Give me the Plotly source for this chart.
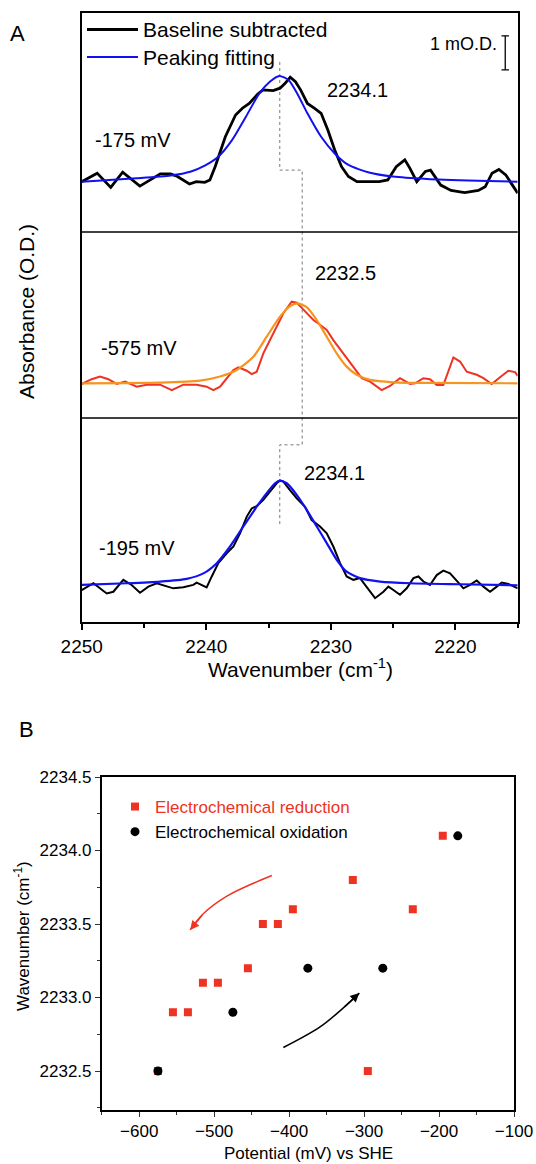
import plotly.graph_objects as go

# ---------------- Panel A data (wavenumber in cm-1, absorbance in mO.D.) ----------------
top_wn = [2250.0, 2248.76, 2247.67, 2246.71, 2245.33, 2244.51, 2243.69, 2242.86, 2242.31, 2241.35,
          2240.80, 2240.12, 2239.71, 2239.29, 2238.47, 2237.65, 2237.10, 2236.55, 2235.86, 2235.45,
          2234.63, 2234.08, 2233.67, 2233.26, 2232.84, 2232.43, 2231.88, 2231.33, 2230.78, 2230.24,
          2229.69, 2229.14, 2228.59, 2227.90, 2226.94, 2226.12, 2225.43, 2224.75, 2224.06, 2223.65,
          2223.10, 2222.41, 2222.00, 2221.18, 2220.35, 2219.26, 2218.16, 2217.61, 2217.06, 2216.51,
          2215.96, 2215.41, 2215.00]
top_abs = [-0.05, 0.20, -0.22, 0.23, -0.18, 0.0, 0.18, 0.18, 0.10, -0.12,
           -0.05, -0.07, 0.0, 0.39, 1.27, 1.91, 2.11, 2.25, 2.53, 2.65,
           2.63, 2.70, 2.84, 3.02, 2.89, 2.65, 2.25, 2.11, 1.96, 1.47,
           0.88, 0.39, 0.10, -0.05, -0.05, -0.05, 0.0, 0.39, 0.59, 0.34,
           -0.05, 0.25, 0.29, -0.15, -0.31, -0.37, -0.31, -0.20, 0.20, 0.31,
           0.15, -0.15, -0.39]
top_fit_wn = [2250.0, 2245.61, 2242.86, 2241.22, 2240.12, 2239.02, 2237.92, 2236.82, 2235.73, 2234.90,
              2234.13, 2233.39, 2232.71, 2231.88, 2230.78, 2229.69, 2228.59, 2226.94, 2225.02, 2222.27,
              2218.16, 2215.00]
top_fit_abs = [-0.05, 0.05, 0.13, 0.25, 0.42, 0.69, 1.18, 1.86, 2.55, 2.89,
               3.06, 2.94, 2.55, 1.96, 1.27, 0.78, 0.44, 0.22, 0.10, 0.03,
               -0.02, -0.05]

mid_wn = [2250.00, 2249.20, 2248.53, 2247.86, 2247.19, 2246.52, 2245.58, 2244.78, 2243.71, 2242.77,
          2241.84, 2240.77, 2239.97, 2239.43, 2238.89, 2238.36, 2237.82, 2237.42, 2236.75, 2236.35,
          2235.95, 2235.42, 2234.61, 2233.81, 2233.14, 2232.74, 2232.47, 2231.94, 2231.40, 2230.87,
          2230.33, 2229.80, 2228.99, 2228.19, 2227.52, 2226.85, 2225.92, 2225.25, 2224.45, 2223.64,
          2223.24, 2222.57, 2222.04, 2221.50, 2220.97, 2220.16, 2219.63, 2219.09, 2218.29, 2217.75,
          2217.09, 2216.42, 2215.75, 2215.21, 2215.00]
mid_abs = [-0.02, 0.12, 0.20, 0.12, -0.02, 0.05, -0.10, -0.04, -0.04, -0.20,
           -0.04, -0.04, -0.10, -0.20, -0.10, 0.15, 0.39, 0.47, 0.37, 0.27,
           0.34, 0.88, 1.47, 2.06, 2.40, 2.37, 2.27, 2.06, 1.86, 1.72,
           1.57, 1.27, 0.88, 0.49, 0.15, 0.05, -0.20, -0.08, 0.15, -0.02,
           0.0, 0.15, 0.12, -0.05, -0.05, 0.76, 0.64, 0.34, 0.25, 0.15,
           -0.02, 0.18, 0.37, 0.33, 0.22]
mid_fit_wn = [2250.00, 2243.71, 2240.50, 2238.89, 2237.56, 2236.22, 2235.15, 2234.08, 2233.28, 2232.69,
              2231.94, 2231.13, 2230.33, 2229.53, 2228.73, 2227.92, 2226.85, 2224.98, 2222.30, 2215.00]
mid_fit_abs = [0.0, 0.02, 0.08, 0.20, 0.39, 0.78, 1.37, 1.96, 2.27, 2.35,
               2.24, 1.86, 1.37, 0.88, 0.49, 0.25, 0.10, 0.03, 0.01, 0.0]

bot_wn = [2250.00, 2249.06, 2247.99, 2247.46, 2246.66, 2245.99, 2245.32, 2244.65, 2243.98, 2243.18,
          2242.64, 2241.84, 2241.04, 2240.77, 2239.97, 2239.56, 2239.03, 2238.36, 2237.82, 2237.29,
          2236.75, 2236.35, 2235.95, 2235.42, 2234.88, 2234.35, 2234.08, 2233.81, 2233.28, 2232.74,
          2232.07, 2231.54, 2230.87, 2230.33, 2229.80, 2229.26, 2228.73, 2228.19, 2227.66, 2227.12,
          2226.45, 2225.78, 2225.38, 2224.98, 2224.45, 2223.91, 2223.37, 2222.97, 2222.57, 2222.04,
          2221.50, 2220.97, 2220.43, 2219.76, 2219.36, 2218.83, 2218.29, 2217.75, 2217.22, 2216.68,
          2216.28, 2215.75, 2215.00]
bot_abs = [-0.15, 0.05, -0.25, -0.20, 0.15, 0.0, -0.23, -0.05, 0.05, -0.05,
           -0.10, -0.07, 0.0, 0.07, -0.07, 0.25, 0.64, 0.93, 1.13, 1.52,
           2.01, 2.25, 2.32, 2.50, 2.75, 2.99, 3.07, 3.04, 2.79, 2.55,
           2.30, 1.91, 1.72, 1.52, 1.13, 0.64, 0.25, 0.15, 0.20, -0.05,
           -0.39, -0.20, -0.05, -0.15, -0.29, -0.10, 0.20, 0.25, 0.10, 0.0,
           0.29, 0.42, 0.34, 0.07, -0.10, 0.0, 0.13, -0.05, -0.20, -0.05,
           0.07, 0.03, -0.10]
bot_fit_wn = [2250.00, 2246.39, 2243.71, 2241.57, 2240.23, 2239.16, 2238.09, 2237.02, 2235.95, 2235.15,
              2234.48, 2234.08, 2233.54, 2232.74, 2231.94, 2231.13, 2230.33, 2229.53, 2228.73, 2227.66,
              2226.05, 2223.64, 2219.63, 2215.00]
bot_fit_abs = [0.0, 0.05, 0.10, 0.18, 0.34, 0.64, 1.13, 1.72, 2.30, 2.70,
               2.99, 3.07, 2.99, 2.65, 2.21, 1.72, 1.23, 0.74, 0.39, 0.20,
               0.10, 0.05, 0.02, -0.01]

potential_labels = ["-175 mV", "-575 mV", "-195 mV"]
peak_labels = ["2234.1", "2232.5", "2234.1"]
guide_peaks = [2234.1, 2232.3, 2234.1]

# ---------------- Panel B data ----------------
red_potential = [-575, -555, -535, -515, -495, -455, -435, -415, -395, -315, -295, -235, -195]
red_wavenumber = [2232.5, 2232.9, 2232.9, 2233.1, 2233.1, 2233.2, 2233.5, 2233.5, 2233.6, 2233.8,
                  2232.5, 2233.6, 2234.1]
ox_potential = [-575, -475, -375, -275, -175]
ox_wavenumber = [2232.5, 2232.9, 2233.2, 2233.2, 2234.1]

red_arrow_x = [-423, -483, -514.5, -532]
red_arrow_y = [2233.83, 2233.69, 2233.57, 2233.46]
ox_arrow_x = [-407.7, -358.7, -327.6, -306.3]
ox_arrow_y = [2232.66, 2232.80, 2232.93, 2233.03]

# ---------------- styling ----------------
W, H = 536, 1164
FONT = "Liberation Sans, Arial, sans-serif"
RED = "#ee3322"
ORANGE = "#f7941d"
BLUE = "#1010f0"

def pxx(x):
    return x / W

def pyy(y):
    return 1 - y / H

# Panel A vertical units: mO.D., 34 px per unit; bottom of frame at 0
OFF_TOP, OFF_MID, OFF_BOT = 13.0, 7.02, 1.09
A_TOP = 17.91
DIV1, DIV2 = 11.47, 6.0

fig = go.Figure()

def add_spec(wn, ab, off, color, width, smooth=False):
    fig.add_trace(go.Scatter(
        x=wn, y=[a + off for a in ab], mode="lines",
        line=dict(color=color, width=width, shape="spline" if smooth else "linear",
                  smoothing=0.6 if smooth else 0),
        showlegend=False, hoverinfo="skip", xaxis="x", yaxis="y"))

# guide dotted step line
gx = [guide_peaks[0], guide_peaks[0], guide_peaks[1], guide_peaks[1], guide_peaks[2], guide_peaks[2]]
gy = [16.47, 13.29, 13.29, 5.21, 5.21, 2.79]
fig.add_trace(go.Scatter(x=gx, y=gy, mode="lines",
                         line=dict(color="#777777", width=1, dash="dot"),
                         showlegend=False, hoverinfo="skip", xaxis="x", yaxis="y"))

add_spec(top_wn, top_abs, OFF_TOP, "black", 2.8)
add_spec(top_fit_wn, top_fit_abs, OFF_TOP, BLUE, 2, smooth=True)
add_spec(mid_wn, mid_abs, OFF_MID, RED, 2)
add_spec(mid_fit_wn, mid_fit_abs, OFF_MID, ORANGE, 2.2, smooth=True)
add_spec(bot_wn, bot_abs, OFF_BOT, "black", 2)
add_spec(bot_fit_wn, bot_fit_abs, OFF_BOT, BLUE, 2.2, smooth=True)

# Panel B traces
fig.add_trace(go.Scatter(x=red_arrow_x, y=red_arrow_y, mode="lines",
                         line=dict(color=RED, width=1.5, shape="spline"),
                         showlegend=False, hoverinfo="skip", xaxis="x2", yaxis="y2"))
fig.add_trace(go.Scatter(x=ox_arrow_x, y=ox_arrow_y, mode="lines",
                         line=dict(color="black", width=1.5, shape="spline"),
                         showlegend=False, hoverinfo="skip", xaxis="x2", yaxis="y2"))
fig.add_trace(go.Scatter(x=red_potential, y=red_wavenumber, mode="markers",
                         marker=dict(symbol="square", size=8, color=RED),
                         name="<span style='color:%s'>Electrochemical reduction</span>" % RED,
                         xaxis="x2", yaxis="y2", legend="legend"))
fig.add_trace(go.Scatter(x=ox_potential, y=ox_wavenumber, mode="markers",
                         marker=dict(symbol="circle", size=9, color="black"),
                         name="Electrochemical oxidation",
                         xaxis="x2", yaxis="y2", legend="legend"))

shapes = []
# panel dividers
for d in (DIV1, DIV2):
    shapes.append(dict(type="line", xref="x domain", yref="y", x0=0, x1=1, y0=d, y1=d,
                       line=dict(color="black", width=1.5)))
# legend lines for panel A
shapes.append(dict(type="line", xref="paper", yref="paper", x0=pxx(87), x1=pxx(138),
                   y0=pyy(29.5), y1=pyy(29.5), line=dict(color="black", width=3)))
shapes.append(dict(type="line", xref="paper", yref="paper", x0=pxx(87), x1=pxx(138),
                   y0=pyy(57), y1=pyy(57), line=dict(color=BLUE, width=2)))
# 1 mO.D. scale bar
sb_x = 2216.0
shapes.append(dict(type="line", xref="x", yref="y", x0=sb_x, x1=sb_x, y0=16.24, y1=17.24,
                   line=dict(color="black", width=1.3)))
for yy in (16.24, 17.24):
    shapes.append(dict(type="line", xref="x", yref="y", x0=sb_x - 0.3, x1=sb_x + 0.3, y0=yy, y1=yy,
                       line=dict(color="black", width=1.3)))

annotations = []
def txt(text, x, y, size, xanchor="center", yanchor="middle", color="black", xref="paper", yref="paper", angle=0):
    annotations.append(dict(text=text, x=x, y=y, xref=xref, yref=yref, showarrow=False,
                            xanchor=xanchor, yanchor=yanchor, textangle=angle,
                            font=dict(family=FONT, size=size, color=color)))

txt("A", pxx(17), pyy(33), 22)
txt("B", pxx(26), pyy(729), 22)
txt("Baseline subtracted", pxx(141), pyy(29), 21, xanchor="left")
txt("Peaking fitting", pxx(141), pyy(57), 21, xanchor="left")
txt("1 mO.D.", 2216.5, 17.0, 18, xanchor="right", xref="x", yref="y")
txt(potential_labels[0], 2249.1, 14.18, 20, xanchor="left", xref="x", yref="y")
txt(peak_labels[0], 2230.5, 15.65, 20, xanchor="left", xref="x", yref="y")
txt(peak_labels[1], 2231.4, 10.26, 20, xanchor="left", xref="x", yref="y")
txt(potential_labels[1], 2248.6, 8.05, 20, xanchor="left", xref="x", yref="y")
txt(peak_labels[2], 2232.3, 4.37, 20, xanchor="left", xref="x", yref="y")
txt(potential_labels[2], 2248.75, 2.17, 20, xanchor="left", xref="x", yref="y")
txt("Absorbance (O.D.)", pxx(27), pyy(312), 21, angle=-90)
txt("Wavenumber (cm<sup>-1</sup>)", pxx(300), pyy(668), 21)
txt("Wavenumber (cm<sup>-1</sup>)", pxx(22), pyy(936), 17, angle=-90)
txt("Potential (mV) vs SHE", pxx(308), pyy(1153), 17)

# arrowheads on panel B curves
for xs, ys, col in ((red_arrow_x, red_arrow_y, RED), (ox_arrow_x, ox_arrow_y, "black")):
    annotations.append(dict(x=xs[-1], y=ys[-1], ax=xs[-2], ay=ys[-2], xref="x2", yref="y2",
                            axref="x2", ayref="y2", text="", showarrow=True, arrowhead=2,
                            arrowsize=1.2, arrowwidth=1.5, arrowcolor=col, standoff=0))

axis_common = dict(showgrid=False, zeroline=False, showline=True, mirror=True,
                   linecolor="black", automargin=False)

fig.update_layout(
    template="none",
    width=W, height=H, margin=dict(l=0, r=0, t=0, b=0, pad=0, autoexpand=False),
    paper_bgcolor="white", plot_bgcolor="white",
    font=dict(family=FONT, color="black"),
    xaxis=dict(**axis_common, domain=[pxx(81.7), pxx(517.7)], anchor="y",
               range=[2250, 2215], tickvals=[2250, 2240, 2230, 2220],
               ticks="outside", ticklen=6, tickwidth=1.5, tickcolor="black", linewidth=2,
               tickfont=dict(size=19, family=FONT, color="black"),
               minor=dict(dtick=5, tick0=2250, ticks="outside", ticklen=4, tickwidth=1.5, tickcolor="black")),
    yaxis=dict(**axis_common, domain=[pyy(622), pyy(13)], anchor="x",
               range=[0, A_TOP], showticklabels=False, ticks="", linewidth=2),
    xaxis2=dict(**axis_common, domain=[pxx(101.7), pxx(514)], anchor="y2",
                range=[-650, -100], tickvals=[-600, -500, -400, -300, -200, -100],
                ticks="outside", ticklen=5, tickwidth=1.3, tickcolor="#333333", linewidth=1.5,
                tickfont=dict(size=17, family=FONT, color="black"),
                minor=dict(dtick=50, tick0=-650, ticks="outside", ticklen=3, tickwidth=1.3, tickcolor="#333333")),
    yaxis2=dict(**axis_common, domain=[pyy(1110), pyy(777)], anchor="x2",
                range=[2232.235, 2234.5], tickvals=[2232.5, 2233.0, 2233.5, 2234.0, 2234.5],
                tickformat=".1f",
                ticks="outside", ticklen=5, tickwidth=1.3, tickcolor="#333333", linewidth=1.5,
                tickfont=dict(size=17, family=FONT, color="black"),
                minor=dict(dtick=0.25, tick0=2232.25, ticks="outside", ticklen=3, tickwidth=1.3, tickcolor="#333333")),
    legend=dict(x=pxx(115), y=pyy(789), xanchor="left", yanchor="top",
                bgcolor="rgba(0,0,0,0)", borderwidth=0,
                font=dict(family=FONT, size=17, color="black"),
                itemwidth=30, tracegroupgap=0),
    showlegend=True,
    shapes=shapes, annotations=annotations,
)

fig.write_html("out.html",
               config={"displayModeBar": False},
               post_script="document.body.style.margin='0';document.body.style.padding='0';"
                           "document.documentElement.style.overflow='hidden';")
